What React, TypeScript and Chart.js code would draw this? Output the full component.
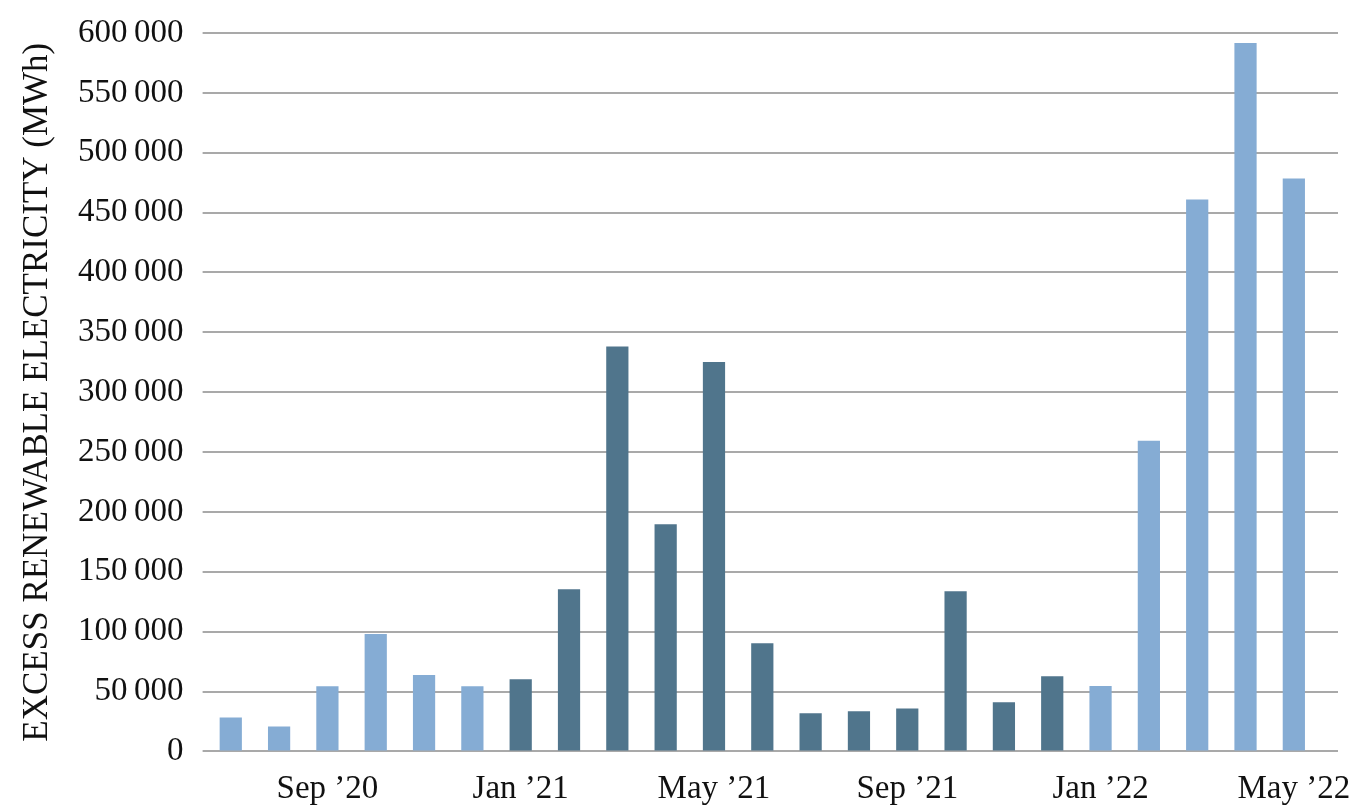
import React, { useEffect, useRef } from "react";
import { Chart, registerables } from "chart.js";

Chart.register(...registerables);

const months = [
  "Jul ’20", "Aug ’20", "Sep ’20", "Oct ’20", "Nov ’20", "Dec ’20",
  "Jan ’21", "Feb ’21", "Mar ’21", "Apr ’21", "May ’21", "Jun ’21",
  "Jul ’21", "Aug ’21", "Sep ’21", "Oct ’21", "Nov ’21", "Dec ’21",
  "Jan ’22", "Feb ’22", "Mar ’22", "Apr ’22", "May ’22",
];

// MWh per month
const excessMWh = [
  28400, 20800, 54500, 98000, 63800, 54500,
  60300, 135500, 338200, 189800, 325300, 90400,
  31800, 33500, 35800, 133800, 41000, 62800,
  54600, 259500, 461000, 591600, 478400,
];

const shownMonths = ["Sep ’20", "Jan ’21", "May ’21", "Sep ’21", "Jan ’22", "May ’22"];

const LIGHT = "#85acd4";
const DARK = "#50758c";
const GRID = "#a9a9a9";
const FONT = "'Liberation Serif', 'Times New Roman', serif";

const fmt = (v: number) =>
  String(v).replace(/\B(?=(\d{3})+(?!\d))/g, "\u2009");

const noPad = (s: any) => {
  s.paddingTop = 0;
  s.paddingBottom = 0;
};

const App = () => {
  const ref = useRef<HTMLCanvasElement | null>(null);

  useEffect(() => {
    document.body.style.margin = "0";
    if (!ref.current) return;

    const chart = new Chart(ref.current, {
      type: "bar",
      data: {
        labels: months,
        datasets: [
          {
            data: excessMWh,
            backgroundColor: months.map((m) => (m.endsWith("’21") ? DARK : LIGHT)),
            categoryPercentage: 1,
            barPercentage: 0.46,
          },
        ],
      },
      options: {
        animation: false,
        responsive: false,
        devicePixelRatio: 1,
        layout: { padding: { top: 33, right: 25, left: 17, bottom: -9 } },
        plugins: { legend: { display: false }, tooltip: { enabled: false } },
        scales: {
          x: {
            grid: { display: false },
            border: { display: false },
            // let the last label hang past the plot edge like the original
            afterFit: (s: any) => {
              s.paddingLeft = 0;
              s.paddingRight = 0;
            },
            ticks: {
              autoSkip: false,
              maxRotation: 0,
              padding: 10,
              color: "#111",
              font: { family: FONT, size: 33 },
              callback: (_v: any, i: number) =>
                shownMonths.includes(months[i]) ? months[i] : "",
            },
          },
          y: {
            min: 0,
            max: 600000,
            border: { display: false },
            grid: { color: GRID, lineWidth: 2, tickLength: 4 },
            afterFit: noPad,
            ticks: {
              stepSize: 50000,
              padding: 19,
              color: "#111",
              font: { family: FONT, size: 33 },
              callback: (v: any) => fmt(Number(v)),
            },
            title: {
              display: true,
              text: "EXCESS RENEWABLE ELECTRICITY (MWh)",
              color: "#111",
              font: { family: FONT, size: 35 },
              padding: { top: 0, bottom: 0 },
            },
          },
          // gridlines run on a little past the last bar
          yRight: {
            position: "right",
            min: 0,
            max: 600000,
            border: { display: false },
            grid: { color: GRID, lineWidth: 2, drawOnChartArea: false, tickLength: 20 },
            afterFit: noPad,
            ticks: { stepSize: 50000, display: false },
          },
        },
      },
    });

    return () => chart.destroy();
  }, []);

  return <canvas ref={ref} width={1363} height={810} style={{ display: "block" }} />;
};

export default App;
